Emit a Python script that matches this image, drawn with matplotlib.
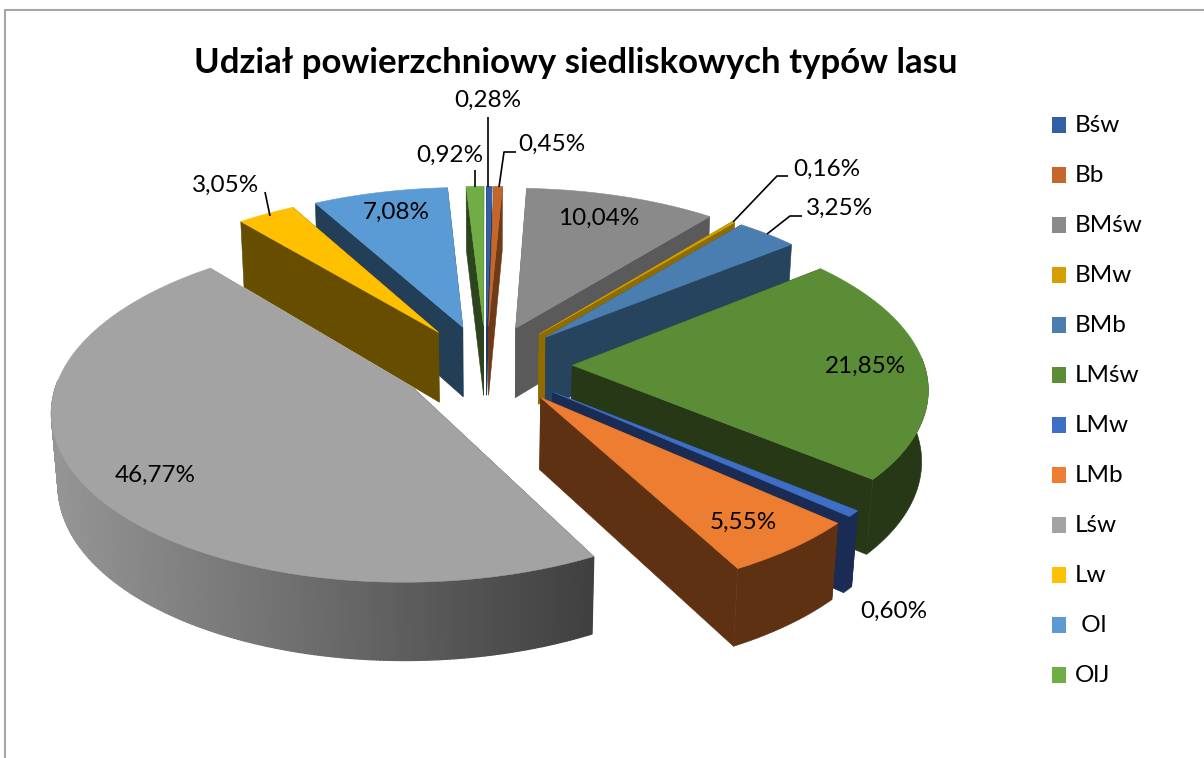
import numpy as np
import matplotlib
matplotlib.use("Agg")
import matplotlib.pyplot as plt
from matplotlib.patches import Rectangle

# ---------------------------------------------------------------------------
# Data
# ---------------------------------------------------------------------------
TITLE = "Udział powierzchniowy siedliskowych typów lasu"
categories = ["Bśw", "Bb", "BMśw", "BMw", "BMb", "LMśw", "LMw", "LMb", "Lśw", "Lw", " Ol", "OlJ"]
values = [0.28, 0.45, 10.04, 0.16, 3.25, 21.85, 0.60, 5.55, 46.77, 3.05, 7.08, 0.92]

# ---------------------------------------------------------------------------
# Style
# ---------------------------------------------------------------------------
top_colors = ["#335FA6", "#C5672A", "#8A8A8A", "#D3A000", "#4A7EB0", "#5B8D37",
              "#3F6FC4", "#ED7D31", "#A3A3A3", "#FFC000", "#5B9BD5", "#70AD47"]
side_colors = ["#1F3A66", "#6E3A18", "#5A5A5A", "#8F6C00", "#27445F", "#263816",
               "#1A2C54", "#5E3113", "#A0A0A0", "#664D00", "#233E57", "#2C451C"]
# boczna ściana Lśw ma gradient w Excelu
GRAD_LEFT, GRAD_RIGHT = np.array([150, 150, 150]) / 255, np.array([64, 64, 64]) / 255
GRAD_IDX = 8

# rzut "pseudo 3D" (piksele)
CX, CY = 486, 365
RX, RY = 352, 165
EXPLODE = 0.245
PERSP = 0.12
DEPTH = 72
DEPTH_SHRINK = 0.015

FONT = ["Lato", "DejaVu Sans"]
LABEL_SIZE = 17.5

# środki etykiet i linie odniesienia, w kolejności kategorii
label_pos = [(488, 100), (552, 144), (599, 218), (827, 169), (840, 208), (865, 366),
             (894, 611), (743, 522), (155, 475), (226, 185), (396, 212), (450, 155)]
leaders = [[(488, 117), (488, 187)],
           [(516, 152), (504, 152), (499, 187)],
           [(475, 170), (475, 187)],
           [(265, 192), (270, 216)],
           [(788, 176), (777, 176), (733, 222)],
           [(802, 216), (790, 216), (767, 234)]]


def project(X, Y, Z):
    """Świat (promień = 1, Z = 0 góra, Z = 1 dół) -> piksele obrazka."""
    s = 1.0 / (1 + PERSP * Y + DEPTH_SHRINK * Z)
    return CX + RX * X * s, CY - RY * Y * s + DEPTH * Z * s


def draw_slice(ax, a0, a1, top, side, gradient=False):
    mid = (a0 + a1) / 2
    ex, ey = EXPLODE * np.sin(mid), EXPLODE * np.cos(mid)
    n = max(3, int(np.degrees(a1 - a0) * 2))
    ang = np.linspace(a0, a1, n)
    X = ex + np.sin(ang)
    Y = ey + np.cos(ang)

    # ściany promieniowe
    for i in (0, -1):
        px = [project(ex, ey, 0), project(X[i], Y[i], 0), project(X[i], Y[i], 1), project(ex, ey, 1)]
        xs, ys = zip(*px)
        col = side
        if gradient:
            col = GRAD_RIGHT if i == 0 else GRAD_LEFT
        ax.fill(xs, ys, color=col, lw=0.4)

    # zewnętrzna ściana, tylko część widoczna z przodu
    vis = np.cos(ang) <= 0.05
    if vis.sum() >= 2:
        if gradient:
            idx = np.flatnonzero(vis)
            for i, j in zip(idx[:-1], idx[1:]):
                px = [project(X[i], Y[i], 0), project(X[j], Y[j], 0),
                      project(X[j], Y[j], 1), project(X[i], Y[i], 1)]
                xs, ys = zip(*px)
                t = np.clip((np.mean(xs) - 50) / 540, 0, 1)
                ax.fill(xs, ys, color=GRAD_LEFT * (1 - t) + GRAD_RIGHT * t, lw=1.0)
        else:
            ux, uy = project(X[vis], Y[vis], 0)
            dx, dy = project(X[vis], Y[vis], 1)
            ax.fill(np.r_[ux, dx[::-1]], np.r_[uy, dy[::-1]], color=side, lw=0.4)

    # góra
    tx, ty = project(np.r_[ex, X], np.r_[ey, Y], 0)
    ax.fill(tx, ty, color=top, lw=0.4)


fig = plt.figure(figsize=(12.04, 7.58), dpi=100)
ax = fig.add_axes([0, 0, 1, 1])
ax.set_xlim(0, 1204)
ax.set_ylim(758, 0)
ax.axis("off")

# ramka wykresu (dół i prawa strona poza kadrem)
ax.plot([5, 5, 1204], [758, 10, 10], color="#A6A6A6", lw=1.5)

ax.text(576, 63, TITLE, ha="center", va="center", fontsize=25, fontweight="bold",
        family=FONT, color="black")

edges = np.cumsum([0] + values) / np.sum(values) * 2 * np.pi
mids = (edges[:-1] + edges[1:]) / 2
# od tyłu do przodu
for k in np.argsort(-np.cos(mids)):
    draw_slice(ax, edges[k], edges[k + 1], top_colors[k], side_colors[k], k == GRAD_IDX)

for pts in leaders:
    xs, ys = zip(*pts)
    ax.plot(xs, ys, color="black", lw=1.2, solid_capstyle="butt")

for val, (lx, ly) in zip(values, label_pos):
    ax.text(lx, ly, f"{val:.2f}%".replace(".", ","), ha="center", va="center",
            fontsize=LABEL_SIZE, family=FONT, color="black")

# legenda
for i, (cat, col) in enumerate(zip(categories, top_colors)):
    y = 125 + 50 * i
    ax.add_patch(Rectangle((1052, y - 8), 14, 16, color=col, lw=0))
    ax.text(1075, y, cat, ha="left", va="center", fontsize=LABEL_SIZE, family=FONT, color="black")

fig.savefig("out.png", dpi=100)
